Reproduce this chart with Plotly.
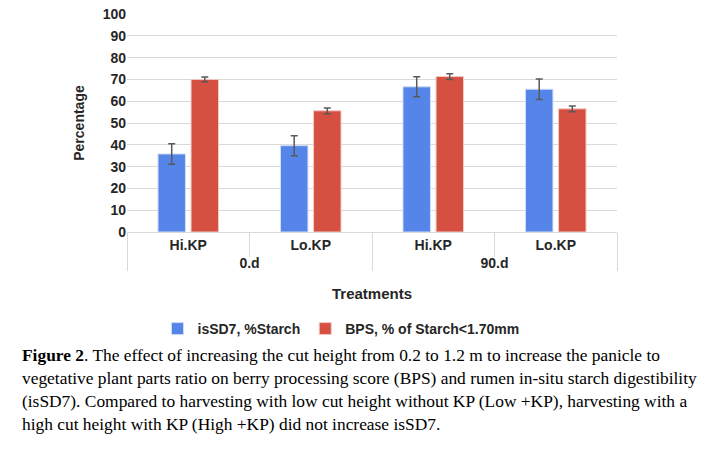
import plotly.graph_objects as go

# values
periods = ["0.d", "0.d", "90.d", "90.d"]
treatments = ["Hi.KP", "Lo.KP", "Hi.KP", "Lo.KP"]
issd7 = [35.8, 39.6, 66.6, 65.5]
issd7_err = [4.7, 4.6, 4.6, 4.7]
bps = [70.0, 55.6, 71.3, 56.5]
bps_err = [1.1, 1.3, 1.3, 1.3]

caption_lines = [
    "<b>Figure 2</b>. The effect of increasing the cut height from 0.2 to 1.2 m to increase the panicle to",
    "vegetative plant parts ratio on berry processing score (BPS) and rumen in-situ starch digestibility",
    "(isSD7). Compared to harvesting with low cut height without KP (Low +KP), harvesting with a",
    "high cut height with KP (High +KP) did not increase isSD7.",
]

W, H = 720, 451
L, R, T, B = 127, 103, 14, 219
pw, ph = W - L - R, H - T - B

x = [periods, treatments]
err_style = dict(type="data", thickness=1.5, width=3.5, color="#595959")

fig = go.Figure()
fig.add_trace(go.Bar(x=x, y=issd7, name="isSD7, %Starch",
                     marker=dict(color="#5585E8", line=dict(color="#cfdcf7", width=1)),
                     error_y=dict(array=issd7_err, **err_style)))
fig.add_trace(go.Bar(x=x, y=bps, name="BPS, % of Starch<1.70mm",
                     marker=dict(color="#D65042", line=dict(color="#f2c9c4", width=1)),
                     error_y=dict(array=bps_err, **err_style)))

fig.update_layout(
    width=W, height=H,
    margin=dict(l=L, r=R, t=T, b=B),
    paper_bgcolor="white", plot_bgcolor="white",
    barmode="group", bargap=0.46, bargroupgap=0.17,
    font=dict(family="Liberation Sans, Arial", size=13, color="#262626"),
    showlegend=True,
    legend=dict(orientation="h", x=(341 - L) / pw, xanchor="center",
                y=(232 - 329) / ph, yanchor="middle",
                font=dict(family="Liberation Sans, Arial", size=14, color="#262626", weight="bold"),
                itemwidth=30, tracegroupgap=0),
)
fig.update_yaxes(range=[0, 100], dtick=10, showgrid=True, gridcolor="#d9d9d9", gridwidth=1,
                 zeroline=False, showline=False, ticks="", automargin=False,
                 tickfont=dict(size=14, weight="bold", color="#262626"),
                 title=dict(text="<b>Percentage</b>", font=dict(size=14), standoff=14))
fig.update_xaxes(showline=True, linecolor="#d9d9d9", linewidth=1, ticks="", automargin=False,
                 showdividers=True, dividercolor="#d9d9d9", dividerwidth=1,
                 tickfont=dict(size=14, weight="bold", color="#262626"),
                 title=dict(text="<b>Treatments</b>", font=dict(size=15), standoff=18))

# inner separators between KP levels
for xp in (0.25, 0.75):
    fig.add_shape(type="line", xref="paper", yref="paper", x0=xp, x1=xp,
                  y0=0, y1=(232 - 257) / ph, line=dict(color="#d9d9d9", width=1))

for i, line in enumerate(caption_lines):
    fig.add_annotation(text=line, xref="paper", yref="paper",
                       x=(20 - L) / pw, xanchor="left",
                       y=(232 - (355 + 23 * i)) / ph, yanchor="middle",
                       showarrow=False, align="left",
                       font=dict(family="Liberation Serif, Times New Roman", size=17.4, color="black"))

fig.write_html("out.html", config={"displayModeBar": False},
               post_script="document.body.style.margin='0';")
